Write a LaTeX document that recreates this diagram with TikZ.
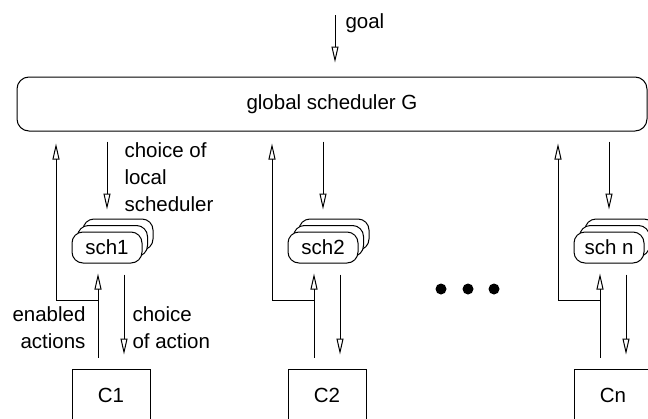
\documentclass[tikz,border=0pt]{standalone}
\usepackage{fontspec}
\setmainfont{Liberation Sans}
\usetikzlibrary{arrows.meta,shadows,calc}
\begin{document}
\begin{tikzpicture}[x=1pt,y=-1pt,
  font=\fontsize{20.5}{27}\selectfont,
  line width=1pt,
  arr/.style={-{Triangle[open,length=16pt,width=7pt]}},
  gbox/.style={draw,rounded corners=12pt,minimum width=630pt,minimum height=54pt,inner sep=0pt},
  schbox/.style={draw,fill=white,rounded corners=11pt,minimum width=70pt,minimum height=31pt,inner sep=0pt,
    double copy shadow={shadow xshift=5.5pt,shadow yshift=6.5pt}},
  cbox/.style={draw,minimum width=78pt,minimum height=52pt,inner sep=0pt},
  lbl/.style={inner sep=0pt},
  dot/.style={circle,fill,minimum size=11pt,inner sep=0pt}]
\useasboundingbox (0,0) rectangle (648,418);
\node[gbox] (G) at (332,104) {global scheduler G};
\coordinate (goal) at (335,15);
\draw[arr] (goal) -- ([yshift=14pt]G.north -| goal);
\node[lbl,anchor=base west] (goalL) at (345,28) {goal};
\foreach \o/\n/\s/\c in {0/1/sch1/C1,216/2/sch2/C2,502/n/sch n/Cn}{
  \node[schbox] (s\n) at (107+\o,247.5) {\s};
  \node[cbox] (c\n) at (111+\o,395) {\c};
  \coordinate (j\n) at (98+\o,300);
  \coordinate (u\n) at (56+\o,300);
  \coordinate (d\n) at (124+\o,300);
  \draw[arr] ([yshift=11pt]c\n.north -| j\n) -- ([yshift=-10pt]s\n.south -| j\n);
  \draw[arr] (j\n) -- (u\n) -- ([yshift=-12pt]G.south -| u\n);
  \draw[arr] ([yshift=-10pt]G.south -| s\n) -- ([yshift=22pt]s\n.north);
  \draw[arr] ([yshift=-11pt]s\n.south -| d\n) -- ([yshift=14pt]c\n.north -| d\n);
}
\node[lbl,anchor=base west,align=left] (cls) at (124,211) {choice of\\local\\scheduler};
\node[lbl,anchor=base east,align=right] (ea) at (86,348) {enabled\\actions};
\node[lbl,anchor=base west,align=left] (coa) at (132,348) {choice\\of action};
\node[dot] (dot1) at (441,289) {};
\node[dot] (dot2) at (468,289) {};
\node[dot] (dot3) at (494,289) {};
\end{tikzpicture}
\end{document}
